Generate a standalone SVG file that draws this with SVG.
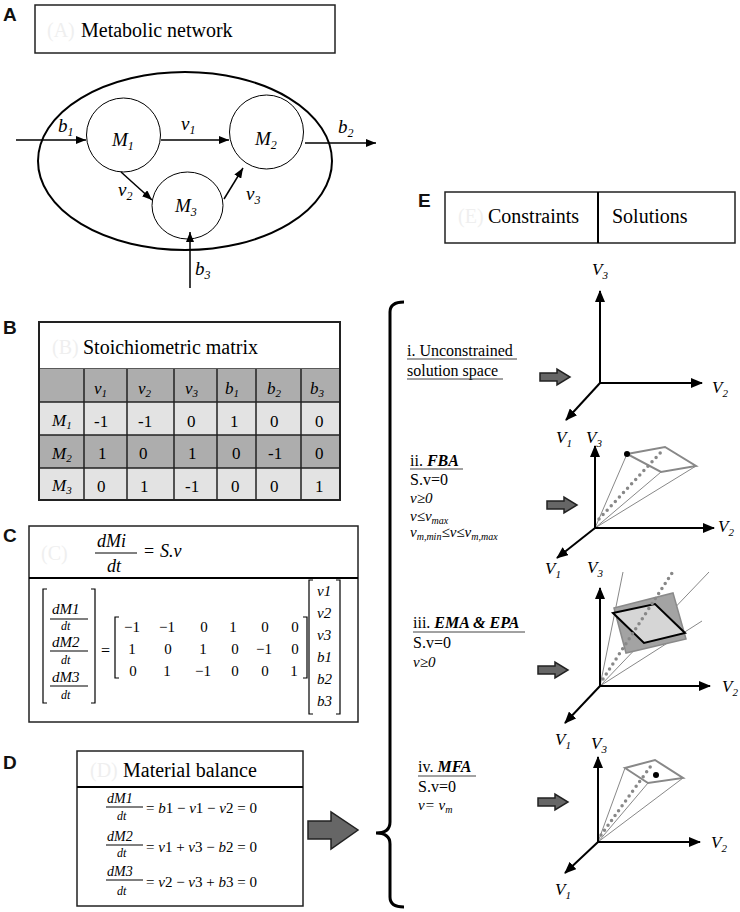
<svg xmlns="http://www.w3.org/2000/svg" width="740" height="912" viewBox="0 0 740 912">
<style>
.t{font-family:"Liberation Serif","Times New Roman","DejaVu Serif",serif;fill:#000}
.i{font-style:italic}
.lab{font-family:"Liberation Sans",Arial,sans-serif;font-weight:bold;font-size:19px;fill:#111}
.faint{fill:#efefef}
.box{fill:#fff;stroke:#222;stroke-width:1.5}
.ln{stroke:#000;fill:none}
.ar{stroke:#000;stroke-width:1.5;fill:none;marker-end:url(#ah)}
.ax{stroke:#000;stroke-width:2;fill:none;marker-end:url(#axh)}
.thin{stroke:#888;stroke-width:1;fill:none}
.edge{stroke:#888;stroke-width:2;fill:none}
.dots{stroke:#888;stroke-width:3.5;stroke-linecap:round;stroke-dasharray:0 6;fill:none}
.fat{fill:#666;stroke:#222;stroke-width:1.5}
.cell{stroke:#222;stroke-width:1.5}
</style>
<defs>
<marker id="ah" viewBox="0 0 10 8" refX="10" refY="4" markerWidth="10" markerHeight="8" markerUnits="userSpaceOnUse" orient="auto"><path d="M0,0 L10,4 L0,8 z"/></marker>
<marker id="axh" viewBox="0 0 12 10" refX="11" refY="5" markerWidth="12" markerHeight="10" markerUnits="userSpaceOnUse" orient="auto"><path d="M0,0 L12,5 L0,10 z"/></marker>
<path id="fa" d="M0,-4 L17,-4 L17,-8 L30,0 L17,8 L17,4 L0,4 Z"/>
</defs>

<!-- Panel A -->
<g id="panelA">
<text class="lab" x="3" y="21">A</text>
<rect class="box" x="35" y="5" width="300" height="48"/>
<text class="t faint" x="47" y="37" font-size="20">(A)</text>
<text class="t" x="81" y="37" font-size="20">Metabolic network</text>
<ellipse cx="185" cy="161" rx="147" ry="89" fill="none" stroke="#000" stroke-width="2"/>
</g>
<g id="M1"><circle cx="123.5" cy="135" r="37" fill="#fff" stroke="#000" stroke-width="1"/><text class="t i" x="112" y="146" font-size="19">M<tspan dy="4" font-size="12">1</tspan></text></g>
<g id="M2"><circle cx="266.5" cy="132" r="37" fill="#fff" stroke="#000" stroke-width="1"/><text class="t i" x="255" y="145" font-size="19">M<tspan dy="4" font-size="12">2</tspan></text></g>
<g id="M3"><ellipse cx="187.5" cy="205.5" rx="35.5" ry="33.5" fill="#fff" stroke="#000" stroke-width="1"/><text class="t i" x="175" y="212" font-size="19">M<tspan dy="4" font-size="12">3</tspan></text></g>
<g id="connA">
<line class="ar" x1="16" y1="140" x2="86" y2="140"/>
<line class="ar" x1="161" y1="140" x2="229" y2="140"/>
<line class="ar" x1="305" y1="143" x2="376" y2="143" stroke-width="2"/>
<line class="ar" x1="121" y1="172" x2="152" y2="200" stroke-width="2"/>
<line class="ar" x1="224" y1="199" x2="243" y2="168" stroke-width="2"/>
<line class="ar" x1="190" y1="288" x2="190" y2="232" stroke-width="2"/>
<text class="t i" x="58" y="132" font-size="19">b<tspan dy="4" font-size="12">1</tspan></text>
<text class="t i" x="181" y="130" font-size="19">v<tspan dy="4" font-size="12">1</tspan></text>
<text class="t i" x="338" y="133" font-size="19">b<tspan dy="4" font-size="12">2</tspan></text>
<text class="t i" x="118" y="196" font-size="19">v<tspan dy="4" font-size="12">2</tspan></text>
<text class="t i" x="246" y="200" font-size="19">v<tspan dy="4" font-size="12">3</tspan></text>
<text class="t i" x="195" y="275" font-size="19">b<tspan dy="4" font-size="12">3</tspan></text>
</g>

<!-- Panel B -->
<g id="panelB">
<text class="lab" x="3" y="334">B</text>
<rect class="box" x="39" y="322" width="301" height="47"/>
<text class="t faint" x="52" y="354" font-size="20">(B)</text>
<text class="t" x="83" y="354" font-size="20">Stoichiometric matrix</text>
<rect x="39" y="369" width="301" height="33" fill="#adadad"/>
<rect x="39" y="402" width="301" height="33" fill="#e3e3e3"/>
<rect x="39" y="435" width="301" height="33" fill="#adadad"/>
<rect x="39" y="468" width="301" height="32" fill="#e3e3e3"/>
<g class="cell">
<line x1="39" y1="402" x2="340" y2="402"/><line x1="39" y1="435" x2="340" y2="435"/><line x1="39" y1="468" x2="340" y2="468"/>
<line x1="84" y1="369" x2="84" y2="500"/><line x1="127" y1="369" x2="127" y2="500"/><line x1="174" y1="369" x2="174" y2="500"/>
<line x1="217" y1="369" x2="217" y2="500"/><line x1="256" y1="369" x2="256" y2="500"/><line x1="301" y1="369" x2="301" y2="500"/>
</g>
<rect x="39" y="322" width="301" height="178" fill="none" stroke="#222" stroke-width="2"/>
<g class="t" font-size="17">
<text class="i" x="94" y="394">v<tspan dy="3" font-size="11">1</tspan></text>
<text class="i" x="138" y="394">v<tspan dy="3" font-size="11">2</tspan></text>
<text class="i" x="185" y="394">v<tspan dy="3" font-size="11">3</tspan></text>
<text class="i" x="225" y="394">b<tspan dy="3" font-size="11">1</tspan></text>
<text class="i" x="267" y="394">b<tspan dy="3" font-size="11">2</tspan></text>
<text class="i" x="310" y="394">b<tspan dy="3" font-size="11">3</tspan></text>
<text class="i" x="52" y="426">M<tspan dy="3" font-size="11">1</tspan></text>
<text class="i" x="52" y="459">M<tspan dy="3" font-size="11">2</tspan></text>
<text class="i" x="52" y="491">M<tspan dy="3" font-size="11">3</tspan></text>
<text x="94" y="427">-1</text><text x="138" y="427">-1</text><text x="187" y="427">0</text><text x="230" y="427">1</text><text x="270" y="427">0</text><text x="315" y="427">0</text>
<text x="98" y="459">1</text><text x="139" y="459">0</text><text x="188" y="459">1</text><text x="232" y="459">0</text><text x="268" y="459">-1</text><text x="315" y="459">0</text>
<text x="97" y="492">0</text><text x="140" y="492">1</text><text x="185" y="492">-1</text><text x="231" y="492">0</text><text x="270" y="492">0</text><text x="315" y="492">1</text>
</g>
</g>

<!-- Panel C -->
<g id="panelC">
<text class="lab" x="3" y="542">C</text>
<rect class="box" x="29" y="526" width="329" height="196"/>
<line class="ln" x1="29" y1="578" x2="358" y2="578" stroke-width="2"/>
<text class="t faint" x="41" y="560" font-size="20">(C)</text>
<g class="t" font-size="18">
<text class="i" x="97" y="547">dMi</text>
<line x1="95" y1="553" x2="137" y2="553" stroke="#000" stroke-width="1"/>
<text class="i" x="107" y="572">dt</text>
<text x="144" y="557">=</text>
<text class="i" x="160" y="557">S.v</text>
</g>
<g stroke="#000" stroke-width="1.2" fill="none">
<path d="M47,589 L43,589 L43,703 L47,703"/><path d="M91,589 L95,589 L95,703 L91,703"/>
<path d="M119,617 L115,617 L115,678 L119,678"/><path d="M303,617 L307,617 L307,678 L303,678"/>
<path d="M313,580 L309,580 L309,714 L313,714"/><path d="M336,580 L340,580 L340,714 L336,714"/>
<line x1="50" y1="619" x2="88" y2="619"/><line x1="50" y1="651" x2="88" y2="651"/><line x1="50" y1="686" x2="88" y2="686"/>
</g>
<g class="t i" font-size="15">
<text x="52" y="614">dM1</text><text x="61" y="630" font-size="12">dt</text>
<text x="52" y="647">dM2</text><text x="61" y="664" font-size="12">dt</text>
<text x="52" y="682">dM3</text><text x="61" y="699" font-size="12">dt</text>
<text x="317" y="596">v1</text><text x="317" y="618">v2</text><text x="317" y="640">v3</text>
<text x="317" y="662">b1</text><text x="317" y="684">b2</text><text x="317" y="706">b3</text>
</g>
<text class="t" x="101" y="656" font-size="16">=</text>
<g class="t" font-size="15" text-anchor="middle">
<text x="132" y="632">−1</text><text x="167" y="632">−1</text><text x="204" y="632">0</text><text x="233" y="632">1</text><text x="265" y="632">0</text><text x="295" y="632">0</text>
<text x="132" y="654">1</text><text x="168" y="654">0</text><text x="203" y="654">1</text><text x="235" y="654">0</text><text x="264" y="654">−1</text><text x="295" y="654">0</text>
<text x="133" y="676">0</text><text x="167" y="676">1</text><text x="203" y="676">−1</text><text x="235" y="676">0</text><text x="265" y="676">0</text><text x="294" y="676">1</text>
</g>
</g>

<!-- Panel D -->
<g id="panelD">
<text class="lab" x="3" y="769">D</text>
<rect class="box" x="77" y="751" width="226" height="155"/>
<line class="ln" x1="77" y1="787" x2="303" y2="787" stroke-width="2"/>
<text class="t faint" x="90" y="777" font-size="20">(D)</text>
<text class="t" x="123" y="777" font-size="20">Material balance</text>
<g stroke="#000" stroke-width="1"><line x1="106" y1="807" x2="143" y2="807"/><line x1="106" y1="845" x2="143" y2="845"/><line x1="106" y1="880" x2="143" y2="880"/></g>
<g class="t" font-size="15">
<text class="i" x="107" y="803" font-size="14">dM1</text><text class="i" x="117" y="820" font-size="12">dt</text>
<text x="146" y="813">= <tspan font-style="italic">b</tspan>1 − <tspan font-style="italic">v</tspan>1 − <tspan font-style="italic">v</tspan>2 = 0</text>
<text class="i" x="107" y="841" font-size="14">dM2</text><text class="i" x="117" y="857" font-size="12">dt</text>
<text x="146" y="852">= <tspan font-style="italic">v</tspan>1 + <tspan font-style="italic">v</tspan>3 − <tspan font-style="italic">b</tspan>2 = 0</text>
<text class="i" x="107" y="876" font-size="14">dM3</text><text class="i" x="117" y="895" font-size="12">dt</text>
<text x="146" y="887">= <tspan font-style="italic">v</tspan>2 − <tspan font-style="italic">v</tspan>3 + <tspan font-style="italic">b</tspan>3 = 0</text>
</g>
</g>

<!-- Connectors: big arrow and brace -->
<g id="connectors">
<path class="fat" d="M308,821 L331,821 L331,812 L358,830 L331,849 L331,839 L308,839 Z" stroke-width="2"/>
<path d="M404,302 Q390,302 390,312 L390,822 Q390,833 376,833 Q390,833 390,844 L390,897 Q390,907 404,907" fill="none" stroke="#000" stroke-width="3"/>
</g>

<!-- Panel E header -->
<g id="panelE">
<text class="lab" x="418" y="207">E</text>
<rect class="box" x="445" y="192" width="290" height="51"/>
<line class="ln" x1="598" y1="192" x2="598" y2="243" stroke-width="2"/>
<text class="t faint" x="458" y="223" font-size="20">(E)</text>
<text class="t" x="488" y="223" font-size="20">Constraints</text>
<text class="t" x="612" y="223" font-size="20">Solutions</text>
</g>

<!-- Row i -->
<g id="rowI">
<text class="t" x="407" y="356" font-size="16">i. Unconstrained</text>
<text class="t" x="407" y="376" font-size="16">solution space</text>
<g stroke="#444" stroke-width="1"><line x1="407" y1="359" x2="517" y2="359"/><line x1="407" y1="379" x2="503" y2="379"/></g>
<use href="#fa" class="fat" transform="translate(540,377)"/>
<line class="ax" x1="600" y1="383" x2="600" y2="291"/>
<line class="ax" x1="600" y1="383" x2="702" y2="383"/>
<line class="ax" x1="600" y1="383" x2="566" y2="420"/>
<g class="t i" font-size="17">
<text x="592" y="275">V<tspan dy="4" font-size="11">3</tspan></text>
<text x="712" y="393">V<tspan dy="4" font-size="11">2</tspan></text>
<text x="556" y="443">V<tspan dy="4" font-size="11">1</tspan></text>
</g>
</g>

<!-- Row ii -->
<g id="rowII">
<text class="t" x="410" y="466" font-size="16">ii. <tspan font-weight="bold" font-style="italic">FBA</tspan></text>
<line x1="410" y1="469" x2="463" y2="469" stroke="#444" stroke-width="1"/>
<text class="t" x="410" y="485" font-size="16">S.v=0</text>
<text class="t i" x="410" y="503" font-size="15">v≥0</text>
<text class="t i" x="410" y="521" font-size="15">v≤v<tspan dy="3" font-size="10">max</tspan></text>
<text class="t i" x="410" y="537" font-size="15">v<tspan dy="3" font-size="10">m,min</tspan><tspan dy="-3">≤v≤v</tspan><tspan dy="3" font-size="10">m,max</tspan></text>
<use href="#fa" class="fat" transform="translate(547,505)"/>
<g class="thin"><line x1="595" y1="528" x2="627" y2="454"/><line x1="595" y1="528" x2="661" y2="472"/><line x1="595" y1="528" x2="696" y2="466"/></g>
<line class="dots" x1="599" y1="519" x2="662" y2="451"/>
<path class="edge" d="M627,454 L665,447 L696,466 L661,472 Z"/>
<circle cx="627" cy="454" r="3" fill="#000"/>
<line class="ax" x1="595" y1="528" x2="595" y2="446"/>
<line class="ax" x1="595" y1="528" x2="714" y2="528"/>
<line class="ax" x1="595" y1="528" x2="557" y2="558"/>
<g class="t i" font-size="17">
<text x="586" y="443">V<tspan dy="4" font-size="11">3</tspan></text>
<text x="718" y="532">V<tspan dy="4" font-size="11">2</tspan></text>
<text x="545" y="574">V<tspan dy="4" font-size="11">1</tspan></text>
</g>
</g>

<!-- Row iii -->
<g id="rowIII">
<text class="t" x="413" y="628" font-size="16">iii. <tspan font-weight="bold" font-style="italic">EMA &amp; EPA</tspan></text>
<line x1="413" y1="632" x2="525" y2="632" stroke="#444" stroke-width="1"/>
<text class="t" x="413" y="648" font-size="16">S.v=0</text>
<text class="t i" x="413" y="667" font-size="15">v≥0</text>
<use href="#fa" class="fat" transform="translate(538,670)"/>
<g class="thin"><line x1="600" y1="686" x2="623" y2="572"/><line x1="600" y1="686" x2="709" y2="572"/><line x1="600" y1="686" x2="702" y2="621"/></g>
<path d="M614,608 L673,593 L686,639 L626,653 Z" fill="#a3a3a3" stroke="#8a8a8a" stroke-width="1.5"/>
<path d="M613,613 L655,604 L685,633 L644,643 Z" fill="#d6d6d6" stroke="#000" stroke-width="2"/>
<line class="dots" x1="603" y1="679" x2="672" y2="573"/>
<line class="ax" x1="600" y1="686" x2="600" y2="588"/>
<line class="ax" x1="600" y1="686" x2="710" y2="686"/>
<line class="ax" x1="600" y1="686" x2="565" y2="723"/>
<g class="t i" font-size="17">
<text x="587" y="573">V<tspan dy="4" font-size="11">3</tspan></text>
<text x="722" y="692">V<tspan dy="4" font-size="11">2</tspan></text>
<text x="555" y="745">V<tspan dy="4" font-size="11">1</tspan></text>
</g>
</g>

<!-- Row iv -->
<g id="rowIV">
<text class="t" x="418" y="772" font-size="16">iv. <tspan font-weight="bold" font-style="italic">MFA</tspan></text>
<line x1="418" y1="776" x2="476" y2="776" stroke="#444" stroke-width="1"/>
<text class="t" x="418" y="792" font-size="16">S.v=0</text>
<text class="t i" x="418" y="810" font-size="15">v= v<tspan dy="3" font-size="10">m</tspan></text>
<use href="#fa" class="fat" transform="translate(538,802)"/>
<g class="thin"><line x1="598" y1="842" x2="625" y2="768"/><line x1="598" y1="842" x2="648" y2="783"/><line x1="598" y1="842" x2="683" y2="778"/></g>
<line class="dots" x1="601" y1="835" x2="653" y2="763"/>
<path class="edge" d="M625,768 L655,760 L683,778 L648,783 Z"/>
<circle cx="656" cy="775" r="3" fill="#000"/>
<line class="ax" x1="598" y1="842" x2="598" y2="757"/>
<line class="ax" x1="598" y1="842" x2="700" y2="842"/>
<line class="ax" x1="598" y1="842" x2="565" y2="873"/>
<g class="t i" font-size="17">
<text x="591" y="749">V<tspan dy="4" font-size="11">3</tspan></text>
<text x="711" y="848">V<tspan dy="4" font-size="11">2</tspan></text>
<text x="555" y="895">V<tspan dy="4" font-size="11">1</tspan></text>
</g>
</g>
</svg>
